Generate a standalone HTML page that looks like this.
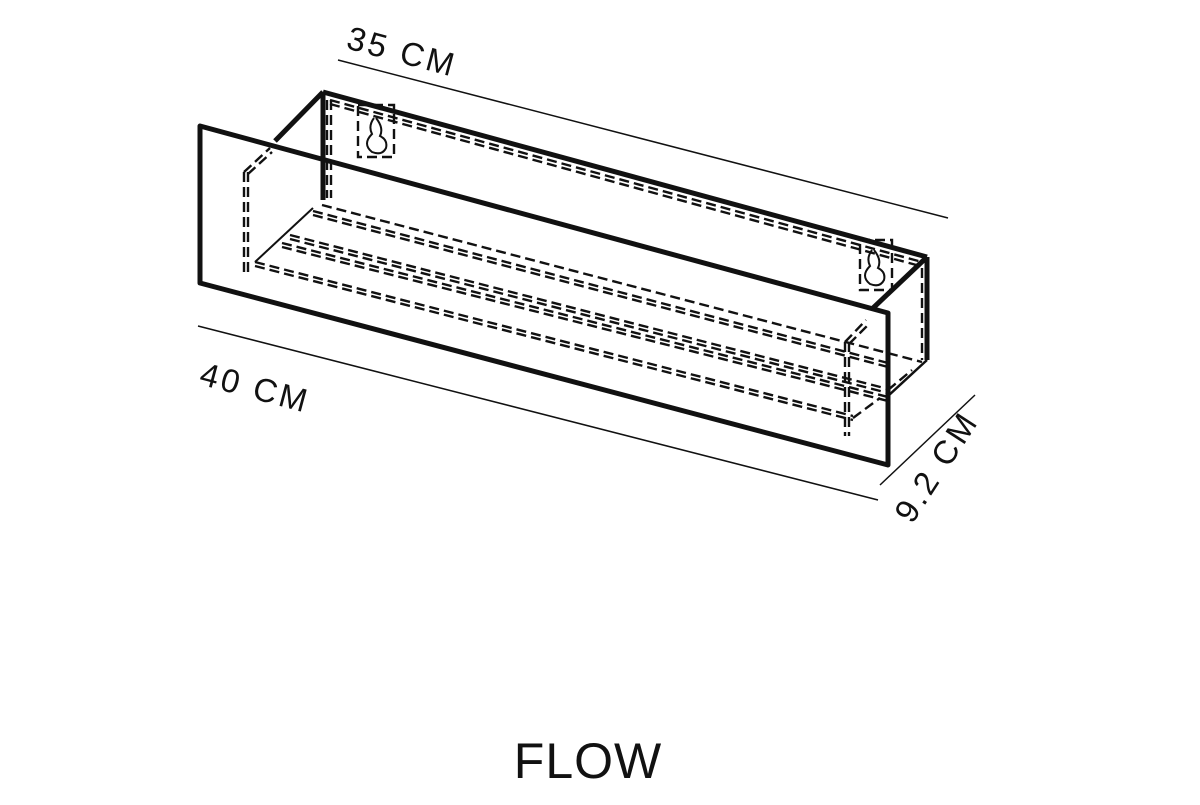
<!DOCTYPE html>
<html><head><meta charset="utf-8"><style>html,body{margin:0;padding:0;background:#fff}</style></head>
<body>
<svg width="1200" height="800" viewBox="0 0 1200 800" xmlns="http://www.w3.org/2000/svg" font-family="Liberation Sans, sans-serif">
<rect width="1200" height="800" fill="#fff"/>
<g stroke="#111" stroke-width="1.5" fill="none">
<line x1="338" y1="60" x2="948" y2="218"/>
<line x1="198" y1="326" x2="878" y2="500"/>
<line x1="880" y1="485" x2="975" y2="395"/>
</g>
<g fill="#111" font-size="33">
<text transform="translate(345,48) rotate(15)" letter-spacing="3">35 CM</text>
<text transform="translate(198,384) rotate(15)" letter-spacing="3">40 CM</text>
<text transform="translate(912,525) rotate(-57)" letter-spacing="3">9.2 CM</text>
</g>
<text x="588" y="778" font-size="50" text-anchor="middle" fill="#111" letter-spacing="1">FLOW</text>
<g stroke="#111" stroke-width="2.4" fill="none" stroke-dasharray="10,5">
<line x1="322" y1="205" x2="922" y2="362"/>
<line x1="313" y1="211" x2="888" y2="363"/>
<line x1="313" y1="215" x2="888" y2="367"/>
<line x1="290" y1="235" x2="888" y2="389"/>
<line x1="290" y1="239" x2="888" y2="393"/>
<line x1="282" y1="243" x2="888" y2="397"/>
<line x1="282" y1="247" x2="888" y2="401"/>
<line x1="255" y1="262" x2="853" y2="416"/>
<line x1="255" y1="266" x2="853" y2="420"/>
<line x1="244" y1="172" x2="244" y2="272"/>
<line x1="248" y1="172" x2="248" y2="272"/>
<line x1="244" y1="172" x2="270" y2="148"/>
<line x1="248" y1="174" x2="272" y2="152"/>
<line x1="845" y1="342" x2="845" y2="436"/>
<line x1="849" y1="342" x2="849" y2="436"/>
<line x1="845" y1="342" x2="866" y2="320"/>
<line x1="849" y1="344" x2="869" y2="324"/>
<line x1="853" y1="418" x2="880" y2="398"/>
<line x1="888" y1="390" x2="912" y2="370"/>
<line x1="327" y1="100" x2="327" y2="198"/>
<line x1="331" y1="100" x2="331" y2="198"/>
<line x1="922" y1="268" x2="922" y2="360"/>
<line x1="330" y1="100" x2="922" y2="262"/>
<line x1="330" y1="104" x2="920" y2="266"/>
<rect x="358" y="105" width="36" height="52"/>
<rect x="860" y="240" width="32" height="50"/>
</g>
<g stroke="#111" stroke-width="2" fill="none">
<path d="M374 118 q-6 8 -2 16 q-10 10 0 18 q10 4 14 -4 q2 -8 -6 -12 q4 -8 -4 -18"/>
<path d="M872 250 q-6 8 -2 16 q-10 10 0 18 q10 4 14 -4 q2 -8 -6 -12 q4 -8 -4 -18"/>
<line x1="313" y1="208" x2="255" y2="262"/>
</g>
<g stroke="#111" stroke-width="5" fill="none" stroke-linejoin="round">
<polygon points="200,126 888,313 888,465 200,283"/>
<line x1="323" y1="92" x2="927" y2="257"/>
<line x1="323" y1="92" x2="275" y2="141"/>
<line x1="323" y1="92" x2="323" y2="200"/>
<line x1="927" y1="257" x2="927" y2="360"/>
<line x1="927" y1="257" x2="872" y2="309"/>
</g>
<g stroke="#111" stroke-width="2.5" fill="none">
<line x1="927" y1="360" x2="888" y2="396"/>
</g>
</svg>
</body></html>
